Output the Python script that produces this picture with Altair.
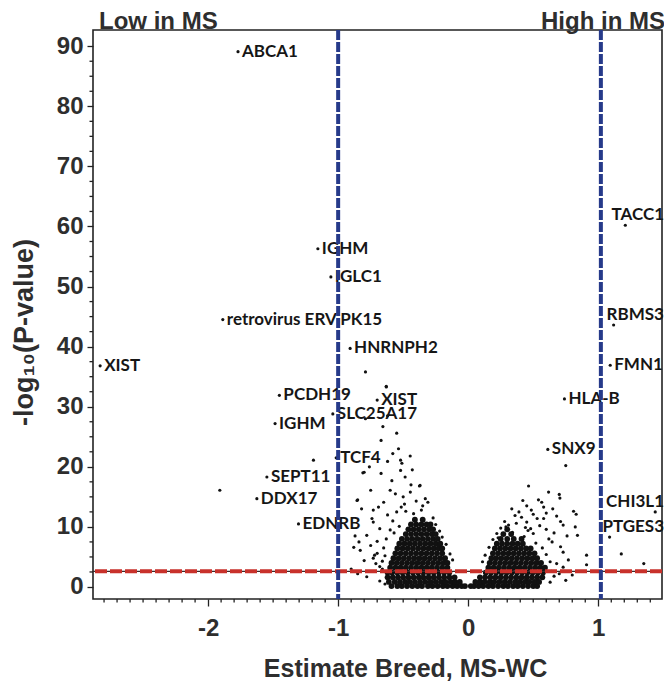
import altair as alt
import pandas as pd

# ---------------- data ----------------
gene_names = ["ABCA1", "TACC1", "IGHM", "IGLC1", "retrovirus ERV PK15", "RBMS3",
              "HNRNPH2", "XIST", "FMN1", "PCDH19", "HLA-B", "XIST", "SLC25A17",
              "IGHM", "SNX9", "TCF4", "SEPT11", "DDX17", "CHI3L1", "EDNRB", "PTGES3"]
gene_x = [-1.77, 1.208, -1.156, -1.056, -1.887, 1.118, -0.908, -2.83, 1.092, -1.452,
          0.74, -0.70, -1.041, -1.485, 0.612, -1.015, -1.548, -1.625, 1.438, -1.305, 1.087]
gene_y = [89.1, 60.2, 56.3, 51.6, 44.5, 43.6, 39.7, 36.8, 36.9, 31.9,
          31.3, 31.1, 28.8, 27.2, 22.9, 21.5, 18.3, 14.7, 12.5, 10.5, 8.3]
labels_above = ["TACC1", "RBMS3", "CHI3L1", "PTGES3"]

# sparse (unlabelled) genes
scatter_x = [-0.63, -0.79, -0.656, -0.67, -0.536, -0.446, -0.62, -0.52, -0.51, -0.76,
             -0.81, -0.67, -0.52, -0.587, -0.485, -0.375, -0.60, -0.75, -0.445, -0.85,
             -0.65, -0.50, -0.49, -0.515, -0.33, -0.31, -0.73, -0.82, -0.74, -0.68,
             -0.87, -0.78, -0.88, -0.83, -0.84, -0.72, -0.71, -0.78, -0.68, -0.66,
             -0.73, -0.80, -0.855, -0.70, -0.73, -0.66, -0.37, -0.55, -0.58, -0.60,
             -0.63, -0.65, -0.64, -0.66, -0.62, -0.48, -0.42, -0.36, -0.27, -0.25,
             -0.22, -0.20, -0.17, -0.14, -0.12, -0.53, -0.57, -0.35, -0.40, -0.44,
             -0.56, -0.69, -0.70, -0.75, -0.80, -0.85, -0.90, -0.68, -0.64, -0.58,
             -0.43, -0.62, -0.55, -1.19, -1.91, -0.79, -0.63,
             0.464, 0.618, 0.70, 0.705, 0.42, 0.45, 0.54, 0.565, 0.58, 0.485,
             0.335, 0.36, 0.81, 0.83, 0.41, 0.45, 0.53, 0.58, 0.71, 0.73,
             0.823, 0.28, 0.31, 0.48, 0.50, 0.76, 0.84, 0.62, 0.645, 0.71,
             0.73, 0.91, 0.63, 0.68, 0.73, 0.91, 0.63, 0.75, 0.60, 0.66,
             0.55, 0.52, 0.57, 0.60, 0.64, 0.66, 0.70, 0.50, 0.39, 0.44,
             0.25, 0.22, 0.19, 0.16, 0.13, 0.11, 0.77, 0.80, 0.68, 0.65,
             0.60, 0.75, 1.177, 1.35, 0.34, 0.43, 0.29, 0.37, 0.23, 0.46]
scatter_y = [33.3, 28.0, 26.7, 24.4, 23.0, 21.8, 20.9, 21.1, 20.6, 20.0,
             19.0, 18.9, 19.4, 17.7, 18.3, 16.8, 16.1, 16.1, 15.8, 14.5,
             14.1, 15.0, 13.8, 13.3, 14.7, 14.1, 12.8, 13.0, 11.4, 9.7,
             8.5, 8.6, 6.6, 6.1, 7.5, 5.3, 3.9, 1.7, 3.4, 2.6,
             10.8, 19.1, 14.4, 5.6, 4.8, 3.0, 16.9, 12.5, 11.0, 9.5,
             8.0, 6.5, 5.2, 4.3, 12.0, 12.6, 12.2, 12.8, 11.5, 10.4,
             9.3, 8.3, 7.1, 5.5, 4.5, 10.1, 9.0, 13.5, 14.3, 17.0,
             15.5, 13.3, 7.6, 6.9, 4.4, 2.2, 3.0, 1.0, 0.5, 22.2,
             19.5, 28.5, 25.6, 21.1, 16.1, 35.8, 33.4,
             16.8, 15.8, 15.4, 14.8, 14.4, 13.5, 14.5, 14.1, 13.3, 12.8,
             13.0, 11.9, 12.6, 12.1, 11.6, 10.8, 11.4, 11.4, 10.9, 10.3,
             10.0, 10.9, 10.3, 9.7, 8.9, 8.5, 8.6, 8.0, 7.5, 6.7,
             5.8, 5.3, 4.2, 3.9, 3.3, 3.7, 0.8, 1.1, 9.6, 9.0,
             10.2, 7.3, 6.5, 5.4, 2.6, 1.8, 2.2, 12.1, 12.5, 9.9,
             9.8, 8.9, 7.9, 6.6, 5.3, 4.2, 4.5, 2.0, 11.8, 13.0,
             12.3, 20.2, 5.5, 3.9, 9.1, 8.4, 10.0, 10.6, 8.2, 9.4]

# dense core of the cloud: one row of genes per -log10(p) level
core_rows_y = [0.15, 0.85, 1.6, 2.4, 3.2, 4.0, 4.8, 5.6, 6.4, 7.2, 8.0, 8.8, 9.6, 10.4, 11.2]
core_rows_x = [
    [-0.59, -0.545, -0.51, -0.47, -0.43, -0.39, -0.355, -0.31, -0.275, -0.235, -0.195, -0.16, -0.12, -0.085, -0.05, -0.025,
     0.02, 0.045, 0.08, 0.115, 0.155, 0.19, 0.23, 0.27, 0.305, 0.345, 0.38, 0.42, 0.46, 0.50, 0.53],
    [-0.61, -0.565, -0.525, -0.485, -0.45, -0.41, -0.37, -0.33, -0.29, -0.25, -0.21, -0.175, -0.135, -0.10, -0.065,
     0.055, 0.09, 0.125, 0.165, 0.20, 0.24, 0.28, 0.32, 0.36, 0.395, 0.435, 0.47, 0.51, 0.545],
    [-0.62, -0.58, -0.54, -0.50, -0.46, -0.42, -0.38, -0.345, -0.305, -0.265, -0.225, -0.185, -0.145, -0.105,
     0.09, 0.13, 0.17, 0.21, 0.25, 0.29, 0.33, 0.37, 0.41, 0.45, 0.49, 0.53, 0.57],
    [-0.62, -0.585, -0.545, -0.505, -0.465, -0.425, -0.385, -0.345, -0.305, -0.265, -0.225, -0.185, -0.145,
     0.135, 0.175, 0.215, 0.255, 0.295, 0.335, 0.375, 0.415, 0.455, 0.495, 0.535, 0.575],
    [-0.60, -0.56, -0.52, -0.48, -0.44, -0.40, -0.36, -0.32, -0.28, -0.24, -0.20, -0.16,
     0.155, 0.195, 0.235, 0.275, 0.315, 0.355, 0.395, 0.435, 0.475, 0.515, 0.555, 0.59],
    [-0.59, -0.55, -0.51, -0.47, -0.43, -0.39, -0.35, -0.31, -0.27, -0.23, -0.19, -0.16,
     0.165, 0.205, 0.245, 0.285, 0.325, 0.365, 0.405, 0.445, 0.485, 0.525, 0.56],
    [-0.575, -0.535, -0.495, -0.455, -0.415, -0.375, -0.335, -0.295, -0.255, -0.215, -0.178,
     0.178, 0.215, 0.255, 0.295, 0.335, 0.375, 0.415, 0.455, 0.495, 0.53],
    [-0.56, -0.52, -0.48, -0.44, -0.40, -0.36, -0.32, -0.28, -0.24, -0.20,
     0.19, 0.23, 0.27, 0.31, 0.35, 0.39, 0.43, 0.47, 0.51],
    [-0.545, -0.505, -0.465, -0.425, -0.385, -0.345, -0.305, -0.265, -0.228, -0.20,
     0.205, 0.245, 0.285, 0.325, 0.365, 0.405, 0.445, 0.48],
    [-0.53, -0.49, -0.45, -0.41, -0.37, -0.33, -0.29, -0.25, -0.215,
     0.22, 0.26, 0.30, 0.34, 0.38, 0.42],
    [-0.51, -0.47, -0.43, -0.39, -0.35, -0.31, -0.27, -0.235,
     0.25, 0.30, 0.35, 0.41],
    [-0.48, -0.44, -0.40, -0.36, -0.32, -0.28, -0.25,
     0.27, 0.33],
    [-0.46, -0.42, -0.38, -0.34, -0.30, -0.27,
     0.30],
    [-0.44, -0.40, -0.36, -0.32, -0.29],
    [-0.41, -0.35],
]

fc_cutoffs = [-1.0, 1.02]
p_cutoff = [2.6]

x_major = [-2, -1, 0, 1]
x_minor = [-2.8, -2.7, -2.6, -2.5, -2.4, -2.3, -2.2, -2.1, -1.9, -1.8, -1.7, -1.6,
           -1.5, -1.4, -1.3, -1.2, -1.1, -0.9, -0.8, -0.7, -0.6, -0.5, -0.4, -0.3,
           -0.2, -0.1, 0.1, 0.2, 0.3, 0.4, 0.5, 0.6, 0.7, 0.8, 0.9, 1.1, 1.2,
           1.3, 1.4]
y_major = [0, 10, 20, 30, 40, 50, 60, 70, 80, 90]
y_minor = [2.5, 5, 7.5, 12.5, 15, 17.5, 22.5, 25, 27.5, 32.5, 35, 37.5,
           42.5, 45, 47.5, 52.5, 55, 57.5, 62.5, 65, 67.5, 72.5, 75,
           77.5, 82.5, 85, 87.5]
header_left = ["Low in MS"]
header_right = ["High in MS"]

# ---------------- frames ----------------
scatter_df = pd.DataFrame({"x": scatter_x, "y": scatter_y})
core_df = pd.DataFrame(
    [{"x": xv, "y": yv} for yv, row in zip(core_rows_y, core_rows_x) for xv in row]
)
genes_df = pd.DataFrame({"name": gene_names, "x": gene_x, "y": gene_y})
genes_df["above"] = genes_df["name"].isin(labels_above)
genes_right = genes_df[~genes_df["above"]]
genes_top = genes_df[genes_df["above"]]

AX_FONT = "Liberation Sans"
INK = "#2e2e2e"
TICK = "#222222"

xscale = alt.Scale(domain=[-2.885, 1.49], nice=False, zero=False)
yscale = alt.Scale(domain=[-2.0, 92.7], nice=False, zero=False)

xaxis = alt.Axis(
    values=x_major, format="d",
    tickSize=7, tickColor=TICK, tickWidth=1.3, domain=False, grid=False,
    labelFont=AX_FONT, labelFontSize=24, labelFontWeight="bold", labelColor=INK,
    labelPadding=10, labelFlush=False, labelOverlap=False,
    labelExpr="replace(datum.label, '\u2212', '-')",
    title="Estimate Breed, MS-WC", titleFont=AX_FONT, titleFontSize=25,
    titleFontWeight="bold", titleColor=INK, titleX=312, titleY=69,
    titleBaseline="middle", titleAlign="center",
)
yaxis = alt.Axis(
    values=y_major, format="d",
    tickSize=6, tickColor=TICK, tickWidth=1.3, domain=False, grid=False,
    labelFont=AX_FONT, labelFontSize=24, labelFontWeight="bold", labelColor=INK,
    labelPadding=4, labelFlush=False, labelOverlap=False,
    title="-log₁₀(P-value)", titleFont=AX_FONT, titleFontSize=27,
    titleFontWeight="bold", titleColor=INK, titleX=-69, titleY=302,
    titleBaseline="middle", titleAlign="center", titleAngle=270,
)

core = alt.Chart(core_df).mark_circle(size=34, color="#111", opacity=1).encode(
    x=alt.X("x:Q", scale=xscale, axis=xaxis),
    y=alt.Y("y:Q", scale=yscale, axis=yaxis),
)
scatter = alt.Chart(scatter_df).mark_circle(size=10, color="#111", opacity=1).encode(
    x="x:Q", y="y:Q"
)
gene_pts = alt.Chart(genes_df).mark_circle(size=10, color="#111", opacity=1).encode(
    x="x:Q", y="y:Q"
)
lab_right = alt.Chart(genes_right).mark_text(
    align="left", baseline="middle", dx=4, font="Lato", fontWeight="bold",
    fontSize=17, color="#161616"
).encode(x="x:Q", y="y:Q", text="name:N")
lab_top = alt.Chart(genes_top).mark_text(
    align="right", baseline="middle", dy=-10, font="Lato", fontWeight="bold",
    fontSize=17, color="#161616"
).encode(x=alt.value(571), y="y:Q", text="name:N")

# minor ticks, drawn outside the frame through the shared scales
x_minor_ticks = alt.Chart(pd.DataFrame({"x": x_minor})).mark_rule(
    color=TICK, strokeWidth=1.3, clip=False
).encode(x="x:Q", y=alt.value(569), y2=alt.value(572.5))
y_minor_ticks = alt.Chart(pd.DataFrame({"y": y_minor})).mark_rule(
    color=TICK, strokeWidth=1.3, clip=False
).encode(y="y:Q", x=alt.value(0), x2=alt.value(-3.5))

p_df = pd.DataFrame({"y": p_cutoff})
p_base = alt.Chart(p_df).mark_rule(color="#3a2a2a", strokeWidth=1.4).encode(y="y:Q")
p_dash = alt.Chart(p_df).mark_rule(color="#c8312b", strokeWidth=4, strokeDash=[12, 3]).encode(y="y:Q")
fc = alt.Chart(pd.DataFrame({"x": fc_cutoffs})).mark_rule(
    color="#263a8a", strokeWidth=4, strokeDash=[10, 2]
).encode(x="x:Q")

head_l = alt.Chart(pd.DataFrame({"t": header_left})).mark_text(
    align="left", baseline="alphabetic", font=AX_FONT, fontWeight="bold",
    fontSize=24, color=INK
).encode(x=alt.value(6), y=alt.value(-1), text="t:N")
head_r = alt.Chart(pd.DataFrame({"t": header_right})).mark_text(
    align="right", baseline="alphabetic", font=AX_FONT, fontWeight="bold",
    fontSize=24, color=INK
).encode(x=alt.value(572), y=alt.value(-1), text="t:N")

chart = alt.layer(
    core, scatter, gene_pts, lab_right, lab_top, x_minor_ticks, y_minor_ticks,
    p_base, p_dash, fc, head_l, head_r
).properties(
    width=569, height=569,
    autosize=alt.AutoSizeParams(type="none"),
    padding={"left": 85, "top": 22, "right": 2, "bottom": 90},
    background="white",
).configure_view(stroke="#222", strokeWidth=1.6)

chart.save("out.html", embed_options={"renderer": "svg", "actions": False})
